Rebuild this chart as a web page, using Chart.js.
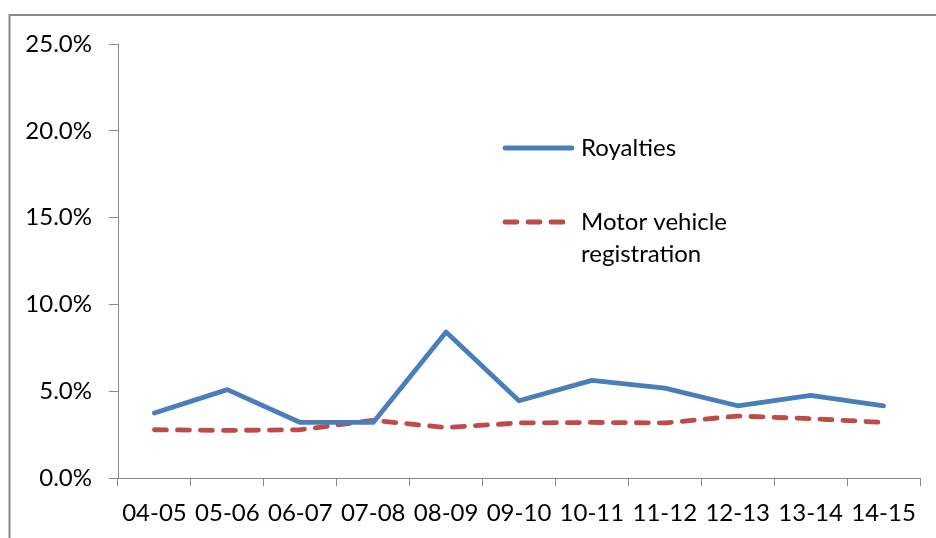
<!DOCTYPE html>
<html><head><meta charset="utf-8">
<script src="https://cdn.jsdelivr.net/npm/chart.js@4/dist/chart.umd.min.js"></script>
<style>html,body{margin:0;padding:0;background:#fff;} #wrap{width:936px;height:538px;position:relative;}</style>
</head><body><div id="wrap"><canvas id="c" width="936" height="538"></canvas></div>
<script>
const categories = ['04-05','05-06','06-07','07-08','08-09','09-10','10-11','11-12','12-13','13-14','14-15'];
const royalties = [3.74, 5.09, 3.20, 3.20, 8.41, 4.45, 5.62, 5.18, 4.16, 4.76, 4.15];
const motorVehicle = [2.78, 2.74, 2.78, 3.32, 2.91, 3.17, 3.20, 3.17, 3.57, 3.42, 3.20];
const seriesNames = [['Royalties'], ['Motor vehicle', 'registration']];
const yMin = 0, yMax = 25, yStep = 5;

const FONT = 'Lato, "Open Sans", sans-serif';
const BLUE = '#4A7EBB', RED = '#BE4B48', AXIS = '#898989';
const DASH = [12, 11];

const framePlugin = {
  id: 'frame',
  beforeDraw(chart) {
    const ctx = chart.ctx;
    ctx.save();
    ctx.fillStyle = '#fff';
    ctx.fillRect(0, 0, chart.width, chart.height);
    ctx.strokeStyle = '#8a8a8a';
    ctx.lineWidth = 2;
    ctx.beginPath();
    ctx.moveTo(9.5, chart.height);
    ctx.lineTo(9.5, 15);
    ctx.lineTo(chart.width, 15);
    ctx.stroke();
    ctx.restore();
  }
};

const legendPlugin = {
  id: 'innerLegend',
  afterDatasetsDraw(chart) {
    const ctx = chart.ctx;
    const rows = [148, 222];
    ctx.save();
    chart.data.datasets.forEach((ds, i) => {
      const y = rows[i];
      ctx.strokeStyle = ds.borderColor;
      ctx.lineWidth = ds.borderWidth;
      ctx.lineCap = 'round';
      ctx.setLineDash(ds.borderDash || []);
      ctx.beginPath();
      ctx.moveTo(505, y);
      ctx.lineTo(i === 0 ? 572 : 566, y);
      ctx.stroke();
      ctx.setLineDash([]);
      ctx.fillStyle = '#000';
      ctx.font = '24px ' + FONT;
      ctx.textBaseline = 'middle';
      ctx.textAlign = 'left';
      seriesNames[i].forEach((t, k) => ctx.fillText(t, 581, y + k * 32));
    });
    ctx.restore();
  }
};

new Chart(document.getElementById('c'), {
  type: 'line',
  data: {
    labels: categories,
    datasets: [
      { label: seriesNames[0].join(' '), data: royalties, borderColor: BLUE, backgroundColor: BLUE,
        borderWidth: 4.8, pointRadius: 0, tension: 0, borderCapStyle: 'round', borderJoinStyle: 'round' },
      { label: seriesNames[1].join(' '), data: motorVehicle, borderColor: RED, backgroundColor: RED,
        borderWidth: 4.8, borderDash: DASH, pointRadius: 0, tension: 0, borderCapStyle: 'round', borderJoinStyle: 'round' }
    ]
  },
  options: {
    responsive: false,
    devicePixelRatio: 1,
    animation: false,
    layout: { padding: { top: 44, right: 16, left: 0, bottom: 0 } },
    plugins: { legend: { display: false }, tooltip: { enabled: false } },
    scales: {
      x: {
        offset: true,
        grid: { offset: true, drawOnChartArea: false, drawTicks: true, tickLength: 8, color: AXIS },
        border: { color: AXIS, width: 1 },
        ticks: { color: '#000', font: { family: FONT, size: 24 }, padding: 13, maxRotation: 0, autoSkip: false },
        afterFit(s) { s.height = 60; }
      },
      y: {
        min: yMin, max: yMax,
        grid: { drawOnChartArea: false, drawTicks: true, tickLength: 9, color: AXIS },
        border: { color: AXIS, width: 1 },
        ticks: { stepSize: yStep, color: '#000', font: { family: FONT, size: 24 }, padding: 17,
          callback: v => v.toFixed(1) + '%' },
        afterFit(s) { s.width = 118; }
      }
    }
  },
  plugins: [framePlugin, legendPlugin]
});
</script>
</body></html>
